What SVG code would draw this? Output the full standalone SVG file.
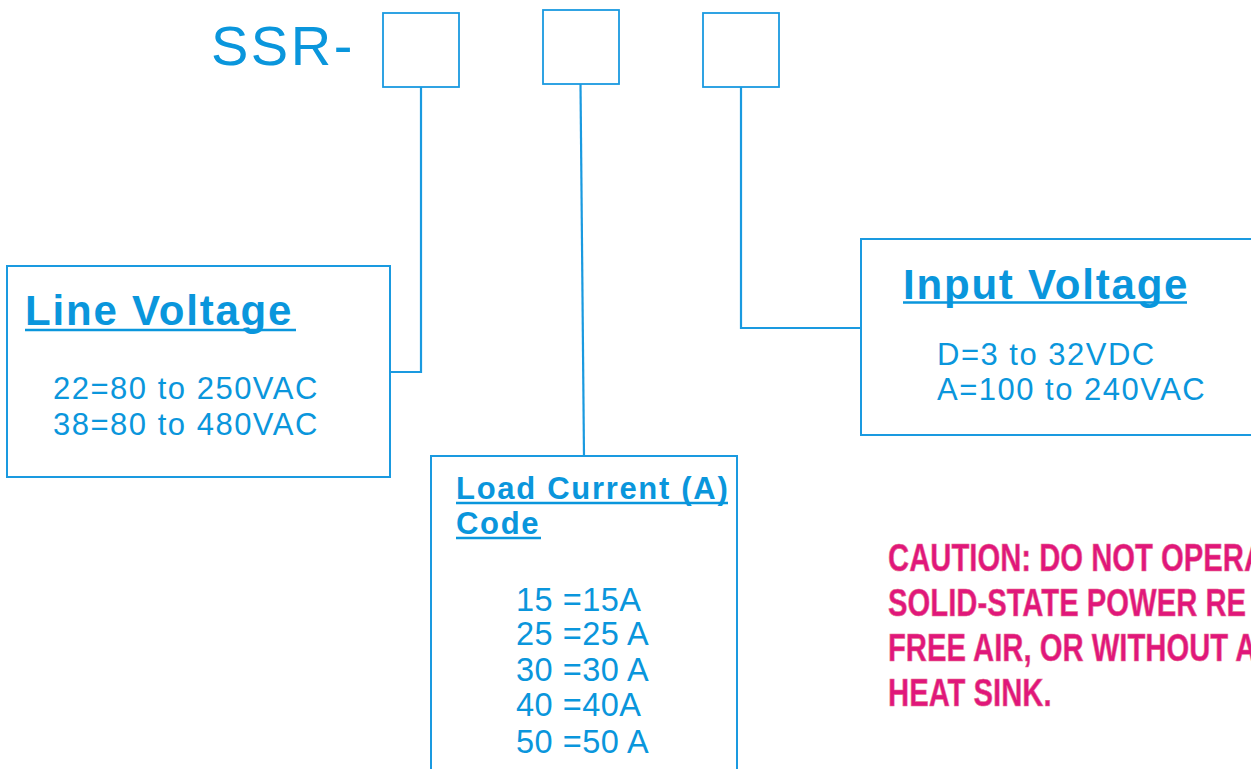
<svg xmlns="http://www.w3.org/2000/svg" width="1251" height="769" viewBox="0 0 1251 769">
<style>
.box{fill:#fff;stroke:#1A9AE0;stroke-width:2}
.sbox{fill:#fff;stroke:#1A9AE0;stroke-width:1.8}
.conn{fill:none;stroke:#1A9AE0;stroke-width:2.2}
.t{font-family:"Liberation Sans",Arial,sans-serif;fill:#0A96DC}
.title{font-weight:bold;font-size:42px;letter-spacing:1.8px}
.body{font-size:31px;letter-spacing:1.5px}
.ul{stroke:#0A96DC;stroke-width:2.5}
.caution{font-family:"Liberation Sans",Arial,sans-serif;font-weight:bold;font-size:38px;fill:#E0177B;stroke:#E8708F;stroke-width:0.6}
</style>
<rect width="1251" height="769" fill="#fff"/>
<g id="header">
<text class="t" x="211" y="65" font-size="56" letter-spacing="2.5">SSR-</text>
</g>
<g id="code1"><rect class="sbox" x="383" y="13" width="76" height="74"/></g>
<g id="code2"><rect class="sbox" x="543" y="10" width="76" height="74"/></g>
<g id="code3"><rect class="sbox" x="703" y="13" width="76" height="74"/></g>
<g id="connectors">
<polyline class="conn" points="421,87 421,372 390,372"/>
<line class="conn" x1="580.5" y1="84" x2="584" y2="456"/>
<polyline class="conn" points="741,87 741,328 861,328"/>
</g>
<g id="line-voltage">
<rect class="box" x="7" y="266" width="383" height="211"/>
<text class="t title" x="25" y="325" letter-spacing="2.2">Line Voltage</text>
<line class="ul" x1="25" y1="330" x2="296" y2="330"/>
<text class="t body" x="53" y="399">22=80 to 250VAC</text>
<text class="t body" x="53" y="435">38=80 to 480VAC</text>
</g>
<g id="input-voltage">
<rect class="box" x="861" y="239" width="400" height="196"/>
<text class="t title" x="903" y="299">Input Voltage</text>
<line class="ul" x1="903" y1="302.5" x2="1187" y2="302.5"/>
<text class="t body" x="937" y="365">D=3 to 32VDC</text>
<text class="t body" x="937" y="400">A=100 to 240VAC</text>
</g>
<g id="load-current">
<rect class="box" x="431" y="456" width="306" height="330"/>
<text class="t" x="456" y="499" font-size="31" font-weight="bold" letter-spacing="1.7">Load Current (A)</text>
<line class="ul" x1="456" y1="503" x2="728" y2="503"/>
<text class="t" x="456" y="534" font-size="31" font-weight="bold" letter-spacing="1.7">Code</text>
<line class="ul" x1="456" y1="538" x2="541" y2="538"/>
<g class="t" font-size="32.5" letter-spacing="0.5">
<text x="516" y="611">15 =15A</text>
<text x="516" y="645">25 =25 A</text>
<text x="516" y="681">30 =30 A</text>
<text x="516" y="716">40 =40A</text>
<text x="516" y="753">50 =50 A</text>
</g>
</g>
<g id="caution">
<text class="caution" transform="translate(888,571) scale(0.77,1)">CAUTION: DO NOT OPERA</text>
<text class="caution" transform="translate(888,616) scale(0.77,1)">SOLID-STATE POWER RE</text>
<text class="caution" transform="translate(888,661) scale(0.77,1)">FREE AIR, OR WITHOUT A</text>
<text class="caution" transform="translate(888,706) scale(0.77,1)">HEAT SINK.</text>
</g>
</svg>
